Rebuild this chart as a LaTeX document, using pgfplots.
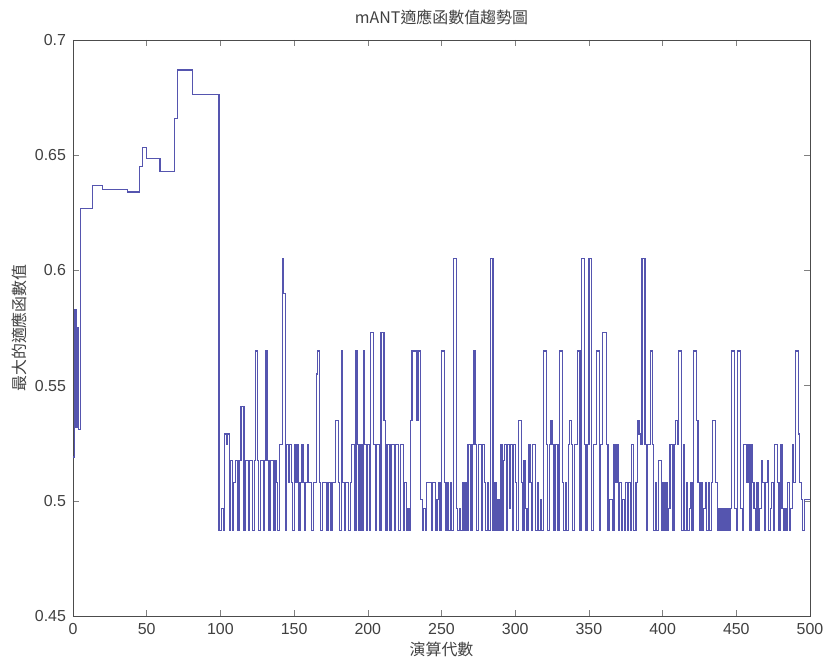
\documentclass[border=0pt]{standalone}
\usepackage{pgfplots}
\pgfplotsset{compat=1.18}
\usepackage{fontspec}
\setmainfont{Liberation Sans}
\newfontfamily\cjk{Noto Sans CJK TC}
\definecolor{linec}{RGB}{85,85,175}
\begin{document}
\begin{tikzpicture}[x=1bp,y=1bp]
\useasboundingbox (-36.5,-24) rectangle (375.5,308);
\begin{axis}[
  at={(0,0)}, anchor=south west,
  scale only axis, width=368.5bp, height=288bp,
  xmin=0, xmax=500, ymin=0.45, ymax=0.7,
  xtick={0,50,...,500},
  ytick={0.45,0.5,0.55,0.6,0.65,0.7},
  yticklabel style={/pgf/number format/fixed,/pgf/number format/precision=2},
  /pgf/number format/assume math mode=true,
  tick align=inside, tick pos=both,
  major tick length=3bp,
  tick label style={font=\fontsize{8}{9}\selectfont, text=black!75},
  axis line style={black!70},
  title={\cjk mANT適應函數值趨勢圖},
  title style={font=\fontsize{8}{9}\selectfont\cjk, text=black!75, yshift=-2bp},
  xlabel={\cjk 演算代數},
  ylabel={\cjk 最大的適應函數值},
  label style={font=\fontsize{8}{9}\selectfont\cjk, text=black!75},
  xlabel style={yshift=3bp},
  ylabel style={yshift=-3bp},
]
\addplot[const plot, color=linec, line width=0.6pt] coordinates {
(0,0.519)(1,0.583)(2,0.532)(3,0.575)(4,0.531)(5,0.627)(13,0.637)(20,0.635)(37,0.634)(45,0.645)
(47,0.6535)(50,0.6487)(59,0.643)(69,0.666)(71,0.687)(81,0.6765)
(99,0.487)(100,0.487)(101,0.4965)(102,0.487)(103,0.529)(104,0.5245)(105,0.529)(106,0.487)(107,0.5175)(108,0.487)(109,0.508)(110,0.5175)
(111,0.5175)(112,0.487)(113,0.5175)(114,0.541)(115,0.541)(116,0.487)(117,0.5175)(118,0.5175)(119,0.487)(120,0.5175)
(121,0.5175)(122,0.487)(123,0.5175)(124,0.565)(125,0.5175)(126,0.487)(127,0.5175)(128,0.5175)(129,0.487)(130,0.5175)
(131,0.565)(132,0.5175)(133,0.487)(134,0.5175)(135,0.5175)(136,0.487)(137,0.5175)(138,0.508)(139,0.487)(140,0.5245)
(141,0.5245)(142,0.605)(143,0.59)(144,0.487)(145,0.5245)(146,0.508)(147,0.5245)(148,0.508)(149,0.487)(150,0.5245)
(151,0.508)(152,0.5245)(153,0.487)(154,0.508)(155,0.5245)(156,0.508)(157,0.487)(158,0.508)(159,0.5245)(160,0.508)
(161,0.508)(162,0.487)(163,0.508)(164,0.508)(165,0.555)(166,0.565)(167,0.508)(168,0.487)(169,0.508)(170,0.508)
(171,0.508)(172,0.487)(173,0.508)(174,0.508)(175,0.487)(176,0.508)(177,0.508)(178,0.535)(179,0.535)(180,0.508)
(181,0.487)(182,0.565)(183,0.508)(184,0.487)(185,0.508)(186,0.508)(187,0.487)(188,0.508)(189,0.5245)(190,0.5245)
(191,0.487)(192,0.565)(193,0.5245)(194,0.487)(195,0.5245)(196,0.487)(197,0.565)(198,0.5245)(199,0.487)(200,0.5245)
(201,0.487)(202,0.573)(203,0.573)(204,0.5245)(205,0.487)(206,0.5245)(207,0.5245)(208,0.487)(209,0.573)(210,0.573)
(211,0.535)(212,0.487)(213,0.5245)(214,0.5245)(215,0.487)(216,0.5245)(217,0.5245)(218,0.487)(219,0.5245)(220,0.5245)
(221,0.487)(222,0.5245)(223,0.5245)(224,0.487)(225,0.508)(226,0.487)(227,0.4965)(228,0.487)(229,0.535)(230,0.565)
(231,0.565)(232,0.565)(233,0.535)(234,0.565)(235,0.565)(236,0.5005)(237,0.487)(238,0.4965)(239,0.487)(240,0.508)
(241,0.508)(242,0.508)(243,0.487)(244,0.508)(245,0.508)(246,0.487)(247,0.5005)(248,0.508)(249,0.487)(250,0.565)
(251,0.565)(252,0.508)(253,0.487)(254,0.508)(255,0.487)(256,0.508)(257,0.487)(258,0.605)(259,0.605)(260,0.4965)
(261,0.487)(262,0.4965)(263,0.487)(264,0.508)(265,0.487)(266,0.508)(267,0.487)(268,0.5245)(269,0.5245)(270,0.487)
(271,0.5245)(272,0.565)(273,0.5245)(274,0.487)(275,0.5245)(276,0.5245)(277,0.487)(278,0.5245)(279,0.508)(280,0.487)
(281,0.508)(282,0.487)(283,0.605)(284,0.605)(285,0.487)(286,0.508)(287,0.487)(288,0.5005)(289,0.487)(290,0.5245)
(291,0.487)(292,0.5175)(293,0.5245)(294,0.487)(295,0.5245)(296,0.4965)(297,0.5245)(298,0.487)(299,0.5245)(300,0.508)
(301,0.487)(302,0.535)(303,0.535)(304,0.508)(305,0.487)(306,0.5175)(307,0.4965)(308,0.487)(309,0.5245)(310,0.508)
(311,0.487)(312,0.5245)(313,0.5245)(314,0.487)(315,0.508)(316,0.487)(317,0.5005)(318,0.487)(319,0.565)(320,0.565)
(321,0.5245)(322,0.487)(323,0.5245)(324,0.535)(325,0.5245)(326,0.487)(327,0.5245)(328,0.5245)(329,0.487)(330,0.565)
(331,0.565)(332,0.508)(333,0.487)(334,0.508)(335,0.487)(336,0.5245)(337,0.535)(338,0.5245)(339,0.487)(340,0.5245)
(341,0.5245)(342,0.565)(343,0.565)(344,0.487)(345,0.605)(346,0.605)(347,0.5245)(348,0.487)(349,0.5245)(350,0.605)
(351,0.605)(352,0.487)(353,0.5245)(354,0.5245)(355,0.565)(356,0.565)(357,0.487)(358,0.5245)(359,0.573)(360,0.573)
(361,0.573)(362,0.5245)(363,0.487)(364,0.5005)(365,0.5005)(366,0.487)(367,0.5245)(368,0.508)(369,0.5245)(370,0.487)
(371,0.508)(372,0.487)(373,0.5005)(374,0.487)(375,0.508)(376,0.487)(377,0.508)(378,0.487)(379,0.5245)(380,0.487)
(381,0.487)(382,0.508)(383,0.535)(384,0.529)(385,0.5245)(386,0.605)(387,0.605)(388,0.5245)(389,0.487)(390,0.5245)
(391,0.5245)(392,0.565)(393,0.5245)(394,0.487)(395,0.508)(396,0.487)(397,0.5175)(398,0.5175)(399,0.487)(400,0.508)
(401,0.487)(402,0.508)(403,0.487)(404,0.4965)(405,0.5245)(406,0.5245)(407,0.487)(408,0.5245)(409,0.535)(410,0.5245)
(411,0.565)(412,0.565)(413,0.487)(414,0.5245)(415,0.487)(416,0.508)(417,0.487)(418,0.4965)(419,0.508)(420,0.487)
(421,0.565)(422,0.565)(423,0.535)(424,0.508)(425,0.487)(426,0.508)(427,0.487)(428,0.4965)(429,0.508)(430,0.487)
(431,0.508)(432,0.487)(433,0.508)(434,0.535)(435,0.535)(436,0.508)(437,0.487)(438,0.4965)(439,0.487)(440,0.4965)
(441,0.487)(442,0.4965)(443,0.487)(444,0.4965)(445,0.487)(446,0.4965)(447,0.565)(448,0.565)(449,0.4965)(450,0.487)
(451,0.565)(452,0.565)(453,0.4965)(454,0.487)(455,0.5245)(456,0.5245)(457,0.508)(458,0.5245)(459,0.487)(460,0.5245)
(461,0.508)(462,0.4965)(463,0.487)(464,0.508)(465,0.487)(466,0.4965)(467,0.5175)(468,0.508)(469,0.487)(470,0.508)
(471,0.5175)(472,0.487)(473,0.4965)(474,0.508)(475,0.487)(476,0.5245)(477,0.5245)(478,0.508)(479,0.487)(480,0.5245)
(481,0.4965)(482,0.487)(483,0.4965)(484,0.487)(485,0.508)(486,0.487)(487,0.4965)(488,0.5245)(489,0.508)(490,0.565)
(491,0.565)(492,0.529)(493,0.508)(494,0.5005)(495,0.487)(496,0.5005)(497,0.5005)(498,0.5005)(499,0.5005)(500,0.5005)
};
\end{axis}
\end{tikzpicture}
\end{document}
